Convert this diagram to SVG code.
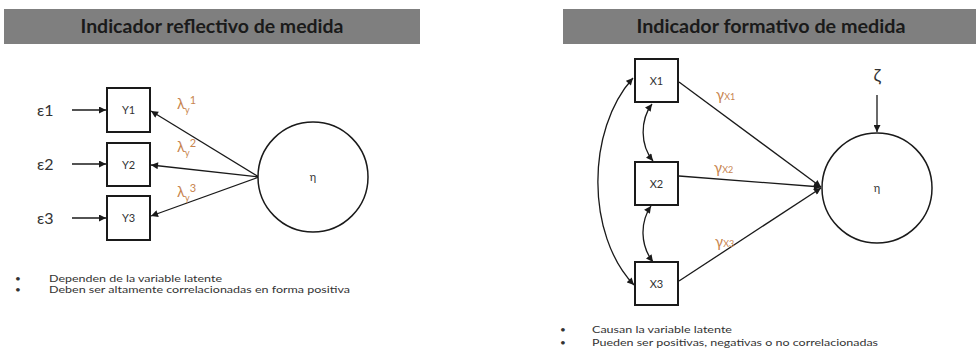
<svg xmlns="http://www.w3.org/2000/svg" width="976" height="352" viewBox="0 0 976 352">
<style>
text{font-family:Lato,"Open Sans","Liberation Sans",sans-serif;fill:#333}
.hdr{fill:#7f7f7f}
.ht{font-weight:bold;font-size:18px;fill:#1a1a1a;text-anchor:middle}
.box{fill:#fff;stroke:#1a1a1a;stroke-width:2}
.lbl{font-size:11px;text-anchor:middle}
.circ{fill:#fff;stroke:#1a1a1a;stroke-width:1.5}
.con{fill:none;stroke:#1a1a1a;stroke-width:1.3}
.or{fill:#c8854f}
.bt{font-size:10px}
</style>
<defs>
<marker id="arr" viewBox="0 0 10 10" refX="10" refY="5" markerWidth="8" markerHeight="7" markerUnits="userSpaceOnUse" orient="auto-start-reverse">
<path d="M0,0 L10,5 L0,10 z" fill="#1a1a1a"/>
</marker>
</defs>

<g id="header-left">
<rect class="hdr" x="4" y="9" width="416" height="35"/>
<text class="ht" x="212" y="33" textLength="263" lengthAdjust="spacingAndGlyphs">Indicador reflectivo de medida</text>
</g>
<g id="header-right">
<rect class="hdr" x="563" y="9" width="413" height="35"/>
<text class="ht" x="771" y="33" textLength="269" lengthAdjust="spacingAndGlyphs">Indicador formativo de medida</text>
</g>

<g id="connectors">
<line class="con" x1="72" y1="110" x2="106" y2="110" marker-end="url(#arr)"/>
<line class="con" x1="72" y1="164" x2="106" y2="164" marker-end="url(#arr)"/>
<line class="con" x1="72" y1="218" x2="106" y2="218" marker-end="url(#arr)"/>
<line class="con" x1="259" y1="177" x2="151" y2="111" marker-end="url(#arr)"/>
<line class="con" x1="259" y1="177" x2="151" y2="165" marker-end="url(#arr)"/>
<line class="con" x1="259" y1="177" x2="151" y2="216" marker-end="url(#arr)"/>
<line class="con" x1="679" y1="82" x2="821" y2="187" marker-end="url(#arr)"/>
<line class="con" x1="679" y1="176" x2="821" y2="187" marker-end="url(#arr)"/>
<line class="con" x1="679" y1="281" x2="821" y2="188" marker-end="url(#arr)"/>
<line class="con" x1="877" y1="95" x2="877" y2="132" marker-end="url(#arr)"/>
<path class="con" d="M652,104 C640,120 640,145 653,161" marker-start="url(#arr)" marker-end="url(#arr)"/>
<path class="con" d="M651,206 C640,222 640,245 653,262" marker-start="url(#arr)" marker-end="url(#arr)"/>
<path class="con" d="M633,78 C586,130 586,235 634,285" marker-start="url(#arr)" marker-end="url(#arr)"/>
</g>

<g id="e1"><text x="37" y="116" style="font-size:16px">ε1</text></g>
<g id="e2"><text x="37" y="170" style="font-size:16px">ε2</text></g>
<g id="e3"><text x="37" y="224" style="font-size:16px">ε3</text></g>

<g id="Y1"><rect class="box" x="107" y="88" width="43" height="44"/><text class="lbl" x="128.5" y="114">Y1</text></g>
<g id="Y2"><rect class="box" x="107" y="143" width="43" height="43"/><text class="lbl" x="128.5" y="169">Y2</text></g>
<g id="Y3"><rect class="box" x="107" y="196" width="43" height="44"/><text class="lbl" x="128.5" y="222">Y3</text></g>

<g id="eta-left"><circle class="circ" cx="313" cy="177" r="55"/><text class="lbl" x="313" y="181">η</text></g>

<g id="lambda1"><text class="or" x="177" y="109" style="font-size:15px">λ<tspan dy="4" style="font-size:9px">y</tspan><tspan dy="-9" style="font-size:11px">1</tspan></text></g>
<g id="lambda2"><text class="or" x="177" y="152" style="font-size:15px">λ<tspan dy="4" style="font-size:9px">y</tspan><tspan dy="-9" style="font-size:11px">2</tspan></text></g>
<g id="lambda3"><text class="or" x="177" y="197" style="font-size:15px">λ<tspan dy="4" style="font-size:9px">y</tspan><tspan dy="-9" style="font-size:11px">3</tspan></text></g>

<g id="notes-left">
<text class="bt" x="15" y="282">•</text>
<text class="bt" x="49" y="282" textLength="173" lengthAdjust="spacingAndGlyphs">Dependen de la variable latente</text>
<text class="bt" x="15" y="293">•</text>
<text class="bt" x="49" y="293" textLength="301" lengthAdjust="spacingAndGlyphs">Deben ser altamente correlacionadas en forma positiva</text>
</g>

<g id="X1"><rect class="box" x="635" y="59" width="43" height="43"/><text class="lbl" x="656.5" y="85">X1</text></g>
<g id="X2"><rect class="box" x="635" y="162" width="43" height="43"/><text class="lbl" x="656.5" y="188">X2</text></g>
<g id="X3"><rect class="box" x="635" y="262" width="43" height="43"/><text class="lbl" x="656.5" y="288">X3</text></g>

<g id="gamma1"><text class="or" x="716" y="100" style="font-size:15px">γ<tspan style="font-size:9px">X1</tspan></text></g>
<g id="gamma2"><text class="or" x="714" y="173" style="font-size:15px">γ<tspan style="font-size:9px">X2</tspan></text></g>
<g id="gamma3"><text class="or" x="715" y="247" style="font-size:15px">γ<tspan style="font-size:9px">X3</tspan></text></g>

<g id="zeta"><text x="877" y="82" style="font-size:18px;text-anchor:middle">ζ</text></g>
<g id="eta-right"><circle class="circ" cx="877" cy="188" r="55"/><text class="lbl" x="877" y="192">η</text></g>

<g id="notes-right">
<text class="bt" x="560" y="333">•</text>
<text class="bt" x="592" y="333" textLength="140" lengthAdjust="spacingAndGlyphs">Causan la variable latente</text>
<text class="bt" x="560" y="346">•</text>
<text class="bt" x="592" y="346" textLength="286" lengthAdjust="spacingAndGlyphs">Pueden ser positivas, negativas o no correlacionadas</text>
</g>
</svg>
